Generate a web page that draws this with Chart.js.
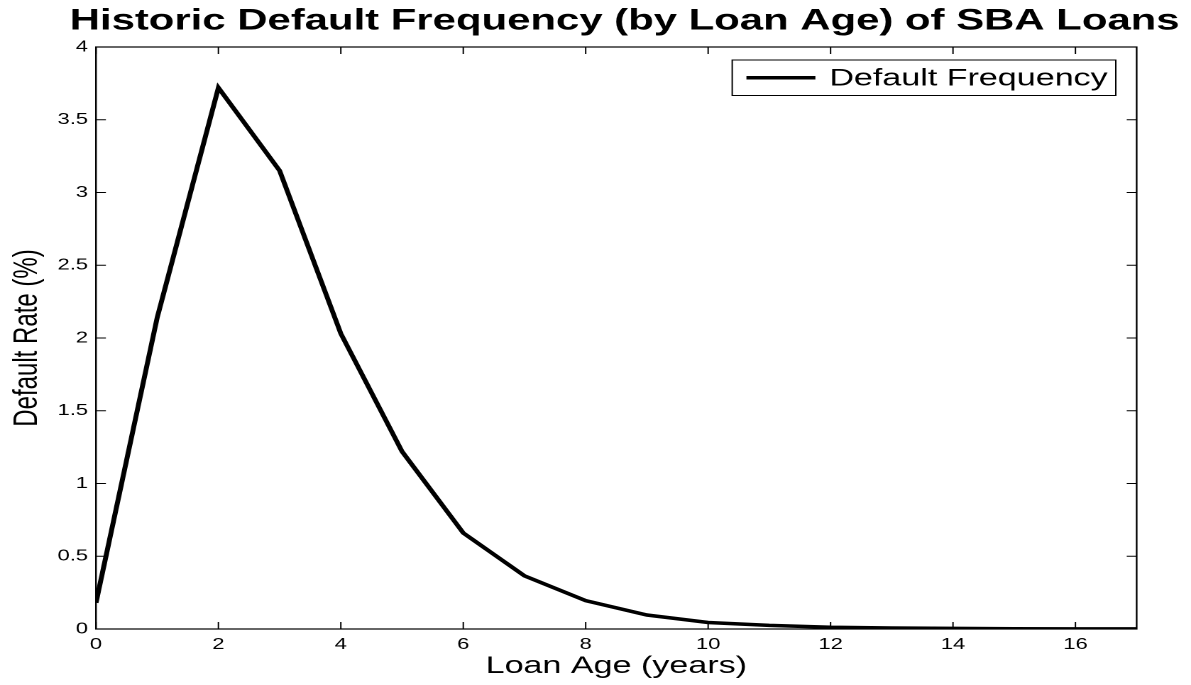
<!DOCTYPE html>
<html>
<head>
<meta charset="utf-8">
<script src="https://cdn.jsdelivr.net/npm/chart.js@4.4.1/dist/chart.umd.min.js"></script>
<style>
  html, body { margin: 0; padding: 0; background: #fff; overflow: hidden; }
  #wrap { width: 839px; height: 685px; transform: scaleX(1.41955); transform-origin: 0 0; }
</style>
</head>
<body>
<div id="wrap"><canvas id="c" width="839" height="685"></canvas></div>
<script>
// ---- data ----
const years = [0, 1, 2, 3, 4, 5, 6, 7, 8, 9, 10, 11, 12, 13, 14, 15, 16, 17];
const defaultRate = [0.18, 2.14, 3.72, 3.15, 2.03, 1.22, 0.66, 0.365, 0.195, 0.096, 0.045, 0.025, 0.012, 0.007, 0.004, 0.002, 0.001, 0.001];
const xTickValues = [0, 2, 4, 6, 8, 10, 12, 14, 16];
const yTickValues = [0, 0.5, 1, 1.5, 2, 2.5, 3, 3.5, 4];
const seriesLabel = 'Default Frequency';
const chartTitle = 'Historic Default Frequency (by Loan Age) of SBA Loans';
const xTitle = 'Loan Age (years)';
const yTitle = 'Default Rate (%)';

const FONT = '"Liberation Sans", Arial, Helvetica, sans-serif';
Chart.defaults.font.family = FONT;
Chart.defaults.color = '#000';

const frame = {
  id: 'frame',
  afterLayout(chart) {
    const tb = chart.titleBlock;
    if (tb) { tb.left = 20; tb.right = 860; }
  },
  afterDraw(chart) {
    const {ctx, chartArea: ca, scales} = chart;
    ctx.save();
    ctx.strokeStyle = '#000';
    ctx.lineWidth = 1.2;
    ctx.strokeRect(ca.left, ca.top, ca.right - ca.left, ca.bottom - ca.top);
    ctx.lineWidth = 1;
    const tl = 7;
    ctx.beginPath();
    scales.x.ticks.forEach(t => {
      const px = scales.x.getPixelForValue(t.value);
      ctx.moveTo(px, ca.bottom); ctx.lineTo(px, ca.bottom - tl);
      ctx.moveTo(px, ca.top); ctx.lineTo(px, ca.top + tl);
    });
    scales.y.ticks.forEach(t => {
      const py = scales.y.getPixelForValue(t.value);
      ctx.moveTo(ca.left, py); ctx.lineTo(ca.left + tl, py);
      ctx.moveTo(ca.right, py); ctx.lineTo(ca.right - tl, py);
    });
    ctx.stroke();

    // legend box
    const ds = chart.data.datasets[0];
    ctx.font = '24px ' + FONT;
    const tw = ctx.measureText(ds.label).width;
    const boxRight = ca.right - 14.7;
    const textRight = boxRight - 5.7;
    const textLeft = textRight - tw;
    const lineEnd = textLeft - 9.8;
    const lineStart = lineEnd - 48.6;
    const boxLeft = lineStart - 10;
    const boxTop = ca.top + 13;
    const boxBottom = ca.top + 48.5;
    const midY = (boxTop + boxBottom) / 2;
    ctx.fillStyle = '#fff';
    ctx.fillRect(boxLeft, boxTop, boxRight - boxLeft, boxBottom - boxTop);
    ctx.lineWidth = 1;
    ctx.strokeRect(boxLeft, boxTop, boxRight - boxLeft, boxBottom - boxTop);
    ctx.lineWidth = ds.borderWidth;
    ctx.beginPath();
    ctx.moveTo(lineStart, midY); ctx.lineTo(lineEnd, midY);
    ctx.stroke();
    ctx.fillStyle = '#000';
    ctx.textBaseline = 'middle';
    ctx.textAlign = 'left';
    ctx.fillText(ds.label, textLeft, midY + 1);
    ctx.restore();
  }
};

new Chart(document.getElementById('c'), {
  type: 'line',
  data: {
    datasets: [{
      label: seriesLabel,
      data: years.map((x, i) => ({x: x, y: defaultRate[i]})),
      borderColor: '#000',
      backgroundColor: '#000',
      borderWidth: 3.5,
      borderJoinStyle: 'miter',
      pointRadius: 0,
      tension: 0,
      fill: false
    }]
  },
  options: {
    responsive: false,
    devicePixelRatio: 2,
    animation: false,
    layout: { padding: { left: 0, right: 38.3, top: 0, bottom: 0 } },
    plugins: {
      legend: { display: false },
      tooltip: { enabled: false },
      title: {
        display: true,
        text: chartTitle,
        fullSize: false,
        font: { size: 29.5, weight: 'bold' },
        color: '#000',
        padding: { top: 3.5, bottom: 8.1 }
      }
    },
    scales: {
      x: {
        type: 'linear',
        min: 0,
        max: 17,
        afterBuildTicks: s => { s.ticks = xTickValues.map(v => ({value: v})); },
        afterFit: s => { s.height = 56; },
        grid: { display: false, drawTicks: false },
        border: { display: false },
        ticks: { padding: 6.5, font: { size: 15.5 }, color: '#000', maxRotation: 0, autoSkip: false, callback: v => String(v) },
        title: { display: true, text: xTitle, font: { size: 24 }, color: '#000', padding: { top: 0, bottom: 4.2 } }
      },
      y: {
        type: 'linear',
        min: 0,
        max: 4,
        afterBuildTicks: s => { s.ticks = yTickValues.map(v => ({value: v})); },
        afterFit: s => { s.width = 67.6; },
        grid: { display: false, drawTicks: false },
        border: { display: false },
        ticks: { padding: 5.6, font: { size: 15.5 }, color: '#000', autoSkip: false, callback: v => String(v) },
        title: { display: true, text: yTitle, font: { size: 24 }, color: '#000', padding: { top: 5, bottom: 0 } }
      }
    }
  },
  plugins: [frame]
});
</script>
</body>
</html>
